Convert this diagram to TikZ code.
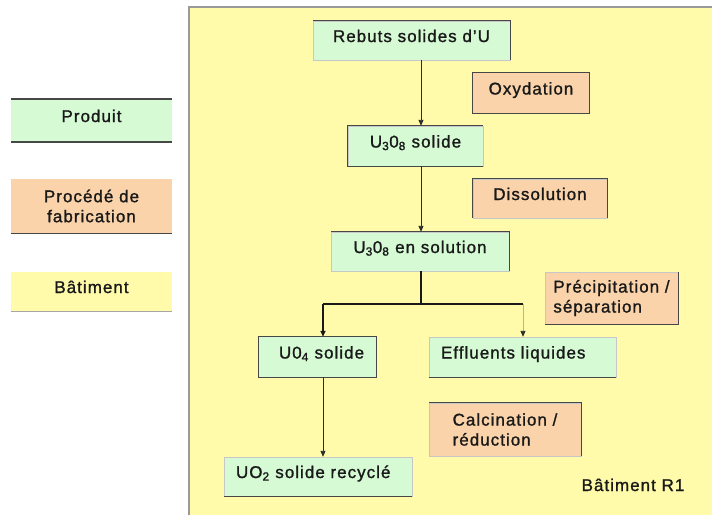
\documentclass[tikz,border=0pt]{standalone}
\usepackage{fontspec}
\setmainfont{Liberation Sans}[LetterSpace=6,FakeBold=1.2]
\usetikzlibrary{arrows.meta}
\definecolor{prodc}{RGB}{213,250,212}
\definecolor{procc}{RGB}{250,211,170}
\definecolor{batc}{RGB}{255,251,170}
\definecolor{edgec}{RGB}{45,45,40}
\definecolor{txtc}{RGB}{25,25,25}
\tikzset{
  boxbase/.style={inner sep=0pt, text=txtc},
  one/.style={text height=12.5pt, text depth=9.5pt},
  prod/.style={boxbase, fill=prodc},
  proc/.style={boxbase, fill=procc},
  batl/.style={boxbase, fill=batc},
  dk/.style={draw=black!72, line width=1pt},
  lt/.style={draw=black!22, line width=0.6pt},
  arr/.style={draw=edgec, line width=0.9pt, -{Triangle[length=6pt,width=5pt]}},
  tree/.style={draw=black!90, line width=1.6pt},
}
\begin{document}
\begin{tikzpicture}[x=1pt,y=-1pt,font=\fontsize{17}{20}\selectfont]
\useasboundingbox (0,0) rectangle (712,515);
\fill[white] (0,0) rectangle (712,515);
% building
\node[fill=batc, minimum width=523pt, minimum height=508pt, inner sep=0pt, anchor=north west] (bldg) at (189,7) {};
\draw[draw=black!40, line width=1.4pt] (bldg.south west) -- (bldg.north west) -- (bldg.north east);
% legend
\node[prod, one, minimum width=161pt, minimum height=43pt] (lprod) at (91.5,120.5) {Produit};
\node[proc, align=center, minimum width=161pt, minimum height=54pt] (lproc) at (91.5,206) {Procédé de\\fabrication};
\node[batl, one, minimum width=161pt, minimum height=39pt] (lbat) at (91.5,291.5) {Bâtiment};
\draw[dk, line width=1.6pt] (lprod.north west) -- (lprod.north east);
\draw[dk, line width=1.8pt] (lprod.south west) -- (lprod.south east);
\draw[dk] (lproc.south west) -- (lproc.south east);
\draw[draw=black!35, line width=1pt] (lbat.south west) -- (lbat.south east);
% products
\node[prod, one, minimum width=197pt, minimum height=39pt] (rebuts) at (411.5,40.5) {Rebuts solides d'U};
\node[prod, one, minimum width=135pt, minimum height=40pt] (u3s) at (415.5,146) {U\textsubscript{3}0\textsubscript{8} solide};
\node[prod, one, minimum width=178pt, minimum height=39pt] (sol) at (420,251.5) {U\textsubscript{3}0\textsubscript{8} en solution};
\node[prod, one, minimum width=117pt, minimum height=40pt] (u04) at (317.5,357) {\hspace*{8pt}U0\textsubscript{4} solide};
\node[prod, one, minimum width=187pt, minimum height=40pt, inner xsep=12pt, text width=163pt, align=left] (eff) at (522.5,357) {Effluents liquides};
\node[prod, one, minimum width=188pt, minimum height=39pt, inner xsep=12pt, text width=164pt, align=left] (uo2) at (318,476.5) {UO\textsubscript{2} solide recyclé};
% processes
\node[proc, one, minimum width=116pt, minimum height=40pt] (oxy) at (531,93) {Oxydation};
\node[proc, one, minimum width=134pt, minimum height=39pt] (diss) at (540,198.5) {Dissolution};
\node[proc, align=left, minimum width=133pt, minimum height=52pt] (prec) at (611.5,298) {Précipitation /\\séparation};
\node[proc, align=left, minimum width=152pt, minimum height=53pt] (calc) at (505,429.5) {Calcination /\\réduction};
% building label
\node[inner sep=0pt, text=txtc, text height=12pt, text depth=0pt] (r1) at (633,485) {Bâtiment R1};
% box edges
\draw[lt] (rebuts.north west) rectangle (rebuts.south east);
\draw[dk] (rebuts.north west) -- (rebuts.north east) -- (rebuts.south east);
\draw[dk] (oxy.north west) rectangle (oxy.south east);
\draw[lt] (u3s.north west) rectangle (u3s.south east);
\draw[dk] (u3s.north east) -- (u3s.north west) -- (u3s.south west) -- (u3s.south east);
\draw[lt] (diss.north west) rectangle (diss.south east);
\draw[dk] (diss.south west) -- (diss.north west) -- (diss.north east) -- (diss.south east);
\draw[lt] (sol.north west) rectangle (sol.south east);
\draw[dk] (sol.north west) -- (sol.north east) -- (sol.south east);
\draw[lt] (prec.north west) rectangle (prec.south east);
\draw[dk] (prec.north east) -- (prec.south east) -- (prec.south west);
\draw[dk] (u04.north west) rectangle (u04.south east);
\draw[lt] (eff.north west) rectangle (eff.south east);
\draw[dk] (eff.south west) -- (eff.south east);
\draw[lt] (calc.north west) rectangle (calc.south east);
\draw[dk] (calc.north west) -- (calc.north east) -- (calc.south east);
\draw[lt] (uo2.north west) rectangle (uo2.south east);
\draw[dk] (uo2.south west) -- (uo2.south east);
% connectors
\coordinate (ax) at (421,0);
\coordinate (bx) at (323,0);
\coordinate (cx) at (523,0);
\coordinate (jy) at (0,304);
\draw[arr] (rebuts.south -| ax) -- (u3s.north -| ax);
\draw[arr] (u3s.south -| ax) -- (sol.north -| ax);
\draw[tree] (sol.south -| ax) -- (ax |- jy);
\draw[tree] (bx |- jy) -- (cx |- jy);
\draw[tree, -{Triangle[length=6pt,width=5pt]}] (bx |- jy) -- (u04.north -| bx);
\draw[draw=black!30, line width=0.9pt, -{Triangle[length=6pt,width=5pt,color=edgec]}] (cx |- jy) -- (eff.north -| cx);
\draw[arr] (u04.south -| bx) -- (uo2.north -| bx);
\end{tikzpicture}
\end{document}
